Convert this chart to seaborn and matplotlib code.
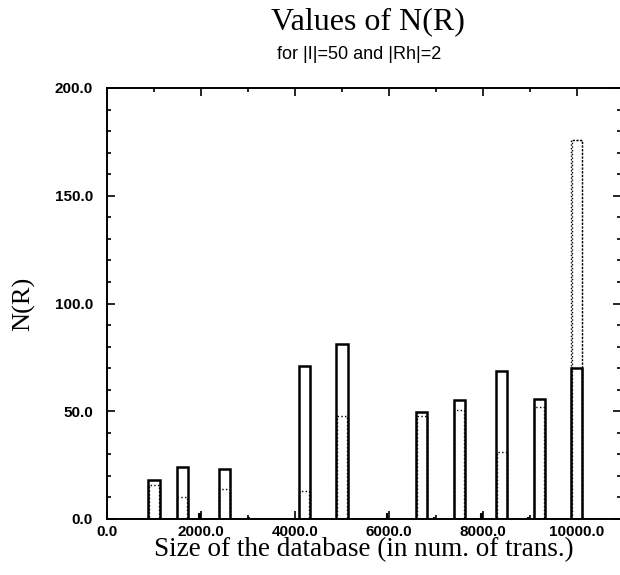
import matplotlib
matplotlib.use("Agg")
import matplotlib.pyplot as plt
import numpy as np
import pandas as pd
import seaborn as sns
from matplotlib.ticker import FormatStrFormatter, MultipleLocator

# database sizes (number of transactions) and N(R) values
SIZES       = [1000, 1600, 2500, 4200, 5000, 6700, 7500, 8400, 9200, 10000]
NR_SOLID    = [18, 24, 23, 71, 81, 49.5, 55, 68.5, 55.5, 70]
NR_DOTTED   = [16, 10, 14, 13, 48, 48, 50.5, 31, 52, 176]
SPIKE_SIZES = [1960, 3000, 5950, 6950, 7960, 8960]
SPIKE_NR    = [3, 1, 3, 1, 3, 1]

TITLE    = "Values of N(R)"
SUBTITLE = "for |I|=50 and |Rh|=2"
XLABEL   = "Size of the database (in num. of trans.)"
YLABEL   = "N(R)"

sns.set_style("ticks")
plt.rcParams["font.family"] = ["Liberation Sans", "DejaVu Sans"]
plt.rcParams["xtick.direction"] = "in"
plt.rcParams["ytick.direction"] = "in"
plt.rcParams["text.color"] = "black"
plt.rcParams["axes.labelcolor"] = "black"
plt.rcParams["xtick.color"] = "black"
plt.rcParams["ytick.color"] = "black"

solid  = pd.DataFrame({"size": SIZES, "nr": NR_SOLID})
dotted = pd.DataFrame({"size": SIZES, "nr": NR_DOTTED})
spikes = pd.DataFrame({"size": SPIKE_SIZES, "nr": SPIKE_NR})

fig = plt.figure(figsize=(6.2, 5.75), dpi=100)
ax = fig.add_axes([107 / 620, 56 / 575, (621 - 107) / 620, 431 / 575])

sns.barplot(data=dotted, x="size", y="nr", native_scale=True, width=0.4,
            fill=False, color="black", linewidth=1.0, linestyle=":", ax=ax,
            errorbar=None)
sns.barplot(data=solid, x="size", y="nr", native_scale=True, width=0.4,
            color="white", edgecolor="black", linewidth=1.8, ax=ax,
            errorbar=None, alpha=1.0)
# redraw dotted tops over the white fill
sns.barplot(data=dotted, x="size", y="nr", native_scale=True, width=0.36,
            fill=False, color="black", linewidth=1.0, linestyle=":", ax=ax,
            errorbar=None)
sns.barplot(data=spikes, x="size", y="nr", native_scale=True, width=0.04,
            color="black", edgecolor="black", linewidth=0.8, ax=ax,
            errorbar=None)

ax.set_xlim(0, 10940)
ax.set_ylim(0, 200)
ax.xaxis.set_major_locator(MultipleLocator(2000))
ax.xaxis.set_minor_locator(MultipleLocator(1000))
ax.yaxis.set_major_locator(MultipleLocator(50))
ax.yaxis.set_minor_locator(MultipleLocator(10))
ax.xaxis.set_major_formatter(FormatStrFormatter("%.1f"))
ax.yaxis.set_major_formatter(FormatStrFormatter("%.1f"))
ax.tick_params(which="both", top=True, right=True, color="black", width=1.2)
ax.tick_params(which="major", length=6, labelsize=11, labelcolor="black")
ax.tick_params(axis="y", which="major", pad=10)
ax.tick_params(axis="x", which="major", pad=4)
ax.tick_params(which="minor", length=3)
for lab in ax.get_xticklabels() + ax.get_yticklabels():
    lab.set_fontweight("bold")
for sp in ax.spines.values():
    sp.set_visible(True)
    sp.set_linewidth(1.4)
    sp.set_color("black")

ax.set_xlabel(XLABEL, family="Liberation Serif", fontsize=19.5, labelpad=-1,
              color="black")
ax.set_ylabel(YLABEL, family="Liberation Serif", fontsize=19, labelpad=14,
              color="black")

fig.text(0.594, 0.962, TITLE, family="Liberation Serif", fontsize=23,
         ha="center", va="center", color="black")
fig.text(0.579, 0.906, SUBTITLE, family="Liberation Sans", fontsize=13,
         ha="center", va="center", color="black")

fig.savefig("out.png", dpi=100)
